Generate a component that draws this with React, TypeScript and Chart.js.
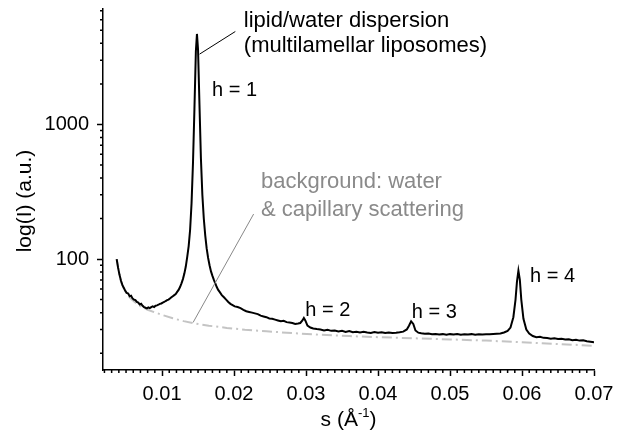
import React, { useEffect, useRef } from "react";
import { Chart, registerables } from "chart.js";

Chart.register(...registerables);

// ---- data ----
const S_MAIN = [
  0.0037, 0.0039, 0.0041, 0.0043, 0.0045, 0.0047, 0.0049, 0.0051, 0.0053, 0.0055,
  0.0057, 0.0059, 0.0061, 0.0063, 0.0065, 0.0067, 0.0069, 0.0071, 0.0073, 0.0075,
  0.0077, 0.0079, 0.0081, 0.0083, 0.0085, 0.0087, 0.0089, 0.0091, 0.0093, 0.0095,
  0.0097, 0.0099, 0.0101, 0.0103, 0.0105, 0.0107, 0.0109, 0.0111, 0.0113, 0.0115,
  0.0117, 0.0119, 0.0121, 0.0123, 0.0125, 0.0127, 0.0129, 0.0131, 0.0133, 0.0135,
  0.0137, 0.0139, 0.0141, 0.0143, 0.0145, 0.0147, 0.01485, 0.015, 0.0152, 0.0154,
  0.0156, 0.0158, 0.016, 0.0162, 0.0164, 0.0166, 0.0168, 0.017, 0.0172, 0.0174,
  0.0176, 0.0178, 0.018, 0.0183, 0.0186, 0.0189, 0.0192, 0.0195, 0.0198, 0.0201,
  0.0205, 0.0209, 0.0213, 0.0217, 0.0221, 0.0225, 0.0229, 0.0233, 0.0237, 0.0241,
  0.0245, 0.0249, 0.0253, 0.0257, 0.0261, 0.0265, 0.0269, 0.0273, 0.0277, 0.0281,
  0.0285, 0.0289, 0.0292, 0.0295, 0.0297, 0.0299, 0.0302, 0.0306, 0.031, 0.0315,
  0.032, 0.0325, 0.033, 0.0335, 0.034, 0.0345, 0.035, 0.0355, 0.036, 0.0365,
  0.037, 0.0375, 0.038, 0.0385, 0.039, 0.0395, 0.04, 0.0405, 0.041, 0.0415,
  0.042, 0.0425, 0.043, 0.0435, 0.044, 0.0443, 0.0446, 0.0449, 0.0452, 0.0456,
  0.046, 0.0465, 0.047, 0.0475, 0.048, 0.0485, 0.049, 0.0495, 0.05, 0.0505,
  0.051, 0.0515, 0.052, 0.0525, 0.053, 0.0535, 0.054, 0.0545, 0.055, 0.0555,
  0.056, 0.0565, 0.057, 0.0575, 0.058, 0.0584, 0.0588, 0.0591, 0.0593, 0.0595,
  0.0597, 0.0599, 0.0602, 0.0606, 0.061, 0.0615, 0.062, 0.0625, 0.063, 0.0635,
  0.064, 0.0645, 0.065, 0.0655, 0.066, 0.0665, 0.067, 0.0675, 0.068, 0.0685,
  0.069, 0.0695, 0.07,
];
const I_MAIN = [
  100, 86, 76, 69, 64, 61, 58, 56, 55.5, 53,
  53.5, 51, 50, 49.5, 48, 47.5, 46, 46.5, 45, 44,
  43.5, 43, 43.8, 43.2, 44, 44.5, 44, 45, 45.3, 45.8,
  46.5, 46.8, 47.5, 48, 48.8, 49.5, 50, 51, 52, 53,
  54, 55, 57, 59, 62, 66, 71, 78, 88, 104,
  125, 165, 260, 520, 1300, 3500, 4700, 3600, 1400, 560,
  300, 200, 150, 120, 102, 90, 81, 75, 70, 66,
  62, 59, 57, 54, 52, 50, 48, 46.5, 45.5, 44.5,
  44, 43.2, 42, 41, 40.5, 40, 39.5, 39, 38, 37.5,
  37, 36.2, 36, 35.5, 35, 34.5, 34.8, 34, 33.8, 33.5,
  33, 33.2, 33.5, 35, 36.5, 35, 32, 31, 30.5, 30.2,
  30, 29.5, 29.8, 29.3, 29.5, 29, 29.3, 28.8, 29.2, 28.6,
  28.9, 28.5, 28.8, 28.5, 28.3, 28.7, 28.4, 28.6, 28.2, 28.5,
  28.3, 28.4, 28.6, 28.9, 30, 32, 34.5, 33, 29.5, 28.4,
  28.1, 27.9, 28, 27.6, 27.8, 27.5, 27.7, 27.4, 27.7, 27.5,
  27.8, 27.4, 27.6, 27.5, 27.7, 27.4, 27.6, 27.5, 27.7, 27.6,
  27.8, 27.9, 28, 28.5, 29.3, 31, 37, 50, 68, 82,
  70, 50, 36, 30, 28, 26.8, 26.3, 26.5, 26, 25.9,
  25.6, 25.8, 25.5, 25.6, 25.3, 25.4, 25, 25.2, 24.8, 24.9,
  24.5, 24.3, 24.1,
];

const S_BG = [
  0.0037, 0.004, 0.0043, 0.0047, 0.0052, 0.0058, 0.0065, 0.0072, 0.008, 0.009,
  0.01, 0.0115, 0.013, 0.0145, 0.0165, 0.019, 0.0215, 0.0245, 0.028, 0.032,
  0.036, 0.04, 0.045, 0.05, 0.055, 0.06, 0.065, 0.07,
];
const I_BG = [
  100, 80, 68, 60, 54, 50, 46.5, 44, 42, 40.2,
  38.5, 36.3, 34.6, 33.3, 32, 30.8, 29.9, 29.1, 28.2, 27.4,
  26.8, 26.3, 25.8, 25.3, 24.8, 24.1, 23.4, 22.7,
];

const X_TICKS = [0.01, 0.02, 0.03, 0.04, 0.05, 0.06, 0.07];
const X_TICK_LABELS = ["0.01", "0.02", "0.03", "0.04", "0.05", "0.06", "0.07"];
const Y_TICKS = [100, 1000];
const Y_TICK_LABELS = ["100", "1000"];
const Y_MINOR = [20, 30, 40, 50, 60, 70, 80, 90, 200, 300, 400, 500, 600, 700, 800, 900, 2000, 3000, 4000, 5000, 6000, 7000];

const X_MIN = 0.0018;
const X_MAX = 0.07;
const Y_MIN = 15;
const Y_MAX = 7200;

// annotation texts (anchored in data coordinates)
const NOTE_MAIN = ["lipid/water dispersion", "(multilamellar liposomes)"];
const NOTE_MAIN_POS = { s: 0.02136, i: 5260 };
const NOTE_MAIN_LEADER = [{ s: 0.02018, i: 4900 }, { s: 0.01522, i: 3330 }];
const NOTE_BG = ["background: water", "& capillary scattering"];
const NOTE_BG_POS = { s: 0.02374, i: 337 };
const NOTE_BG_LEADER = [{ s: 0.02272, i: 216 }, { s: 0.01431, i: 33.8 }];
const ORDER_LABELS = ["h = 1", "h = 2", "h = 3", "h = 4"];
const ORDER_POS = [
  { s: 0.01694, i: 1620 },
  { s: 0.02989, i: 37.5 },
  { s: 0.04470, i: 36.3 },
  { s: 0.06112, i: 68 },
];

const FONT = "'Liberation Sans', Arial, sans-serif";

export default function App() {
  const ref = useRef<HTMLCanvasElement>(null);

  useEffect(() => {
    if (!ref.current) return;
    const mainData = S_MAIN.map((s, k) => ({ x: s, y: I_MAIN[k] }));
    const bgData = S_BG.map((s, k) => ({ x: s, y: I_BG[k] }));

    const overlay = {
      id: "overlay",
      afterDraw(chart: any) {
        const ctx = chart.ctx as CanvasRenderingContext2D;
        const xs = chart.scales.x;
        const ys = chart.scales.y;
        const area = chart.chartArea;
        const px = (s: number) => xs.getPixelForValue(s);
        const py = (v: number) => ys.getPixelForValue(v);
        ctx.save();
        // minor ticks
        ctx.strokeStyle = "#000";
        ctx.lineWidth = 1.5;
        ctx.beginPath();
        for (const v of Y_MINOR) {
          const y = py(v);
          if (y < area.top || y > area.bottom) continue;
          ctx.moveTo(area.left, y);
          ctx.lineTo(area.left - 3, y);
        }
        for (let k = 2; k <= 70; k++) {
          if (k % 10 === 0) continue;
          const x = px(k / 1000);
          ctx.moveTo(x, area.bottom);
          ctx.lineTo(x, area.bottom + 3);
        }
        ctx.stroke();

        // leaders
        ctx.lineWidth = 1;
        ctx.strokeStyle = "#000";
        ctx.beginPath();
        ctx.moveTo(px(NOTE_MAIN_LEADER[0].s), py(NOTE_MAIN_LEADER[0].i));
        ctx.lineTo(px(NOTE_MAIN_LEADER[1].s), py(NOTE_MAIN_LEADER[1].i));
        ctx.stroke();
        ctx.strokeStyle = "#888";
        ctx.beginPath();
        ctx.moveTo(px(NOTE_BG_LEADER[0].s), py(NOTE_BG_LEADER[0].i));
        ctx.lineTo(px(NOTE_BG_LEADER[1].s), py(NOTE_BG_LEADER[1].i));
        ctx.stroke();

        // annotation texts
        ctx.textAlign = "left";
        ctx.textBaseline = "alphabetic";
        ctx.font = `22px ${FONT}`;
        ctx.fillStyle = "#000";
        let x0 = px(NOTE_MAIN_POS.s);
        let y0 = py(NOTE_MAIN_POS.i);
        NOTE_MAIN.forEach((t, k) => ctx.fillText(t, x0, y0 + k * 25));
        ctx.fillStyle = "#8a8a8a";
        x0 = px(NOTE_BG_POS.s);
        y0 = py(NOTE_BG_POS.i);
        NOTE_BG.forEach((t, k) => ctx.fillText(t, x0, y0 + k * 27.7));
        ctx.fillStyle = "#000";
        ctx.font = `20px ${FONT}`;
        ORDER_LABELS.forEach((t, k) => ctx.fillText(t, px(ORDER_POS[k].s), py(ORDER_POS[k].i)));

        // axis titles
        ctx.font = `21px ${FONT}`;
        ctx.save();
        ctx.translate(31, 201);
        ctx.rotate(-Math.PI / 2);
        ctx.textAlign = "center";
        ctx.fillText("log(I) (a.u.)", 0, 0);
        ctx.restore();

        const cx = (area.left + area.right) / 2;
        const base = 426;
        const p1 = "s (Å";
        const p2 = "-1";
        const p3 = ")";
        ctx.font = `21px ${FONT}`;
        const w1 = ctx.measureText(p1).width;
        const w3 = ctx.measureText(p3).width;
        ctx.font = `13px ${FONT}`;
        const w2 = ctx.measureText(p2).width;
        const start = cx - (w1 + w2 + w3) / 2;
        ctx.font = `21px ${FONT}`;
        ctx.fillText(p1, start, base);
        ctx.font = `13px ${FONT}`;
        ctx.fillText(p2, start + w1, base - 9);
        ctx.font = `21px ${FONT}`;
        ctx.fillText(p3, start + w1 + w2, base);
        ctx.restore();
      },
    };

    const zeroPad = (s: any) => {
      s.paddingTop = 0;
      s.paddingBottom = 0;
      s.paddingLeft = 0;
      s.paddingRight = 0;
    };

    const chart = new Chart(ref.current, {
      type: "line",
      data: {
        datasets: [
          {
            label: "lipid/water dispersion",
            data: mainData,
            borderColor: "#000",
            borderWidth: 2,
            pointRadius: 0,
            tension: 0,
            fill: false,
          },
          {
            label: "background",
            data: bgData,
            borderColor: "#c4c4c4",
            borderWidth: 2,
            borderDash: [10, 4, 2, 4],
            pointRadius: 0,
            tension: 0,
            fill: false,
          },
        ],
      },
      options: {
        responsive: false,
        animation: false,
        events: [],
        layout: { padding: { top: 9, right: 23, left: 0, bottom: 0 } },
        plugins: {
          legend: { display: false },
          tooltip: { enabled: false },
        },
        scales: {
          x: {
            type: "linear",
            min: X_MIN,
            max: X_MAX,
            afterBuildTicks: (s: any) => {
              s.ticks = X_TICKS.map((v) => ({ value: v }));
            },
            afterFit: (s: any) => {
              s.height = 77;
              zeroPad(s);
            },
            ticks: {
              autoSkip: false,
              maxRotation: 0,
              padding: 6,
              color: "#000",
              font: { family: FONT, size: 20 },
              callback: (v: any) => {
                const k = X_TICKS.findIndex((t) => Math.abs(t - v) < 1e-9);
                return k >= 0 ? X_TICK_LABELS[k] : "";
              },
            },
            grid: {
              drawOnChartArea: false,
              drawTicks: true,
              tickLength: 6,
              tickColor: "#000",
              tickWidth: 1.5,
            },
            border: { display: true, color: "#000", width: 1.5 },
          },
          y: {
            type: "logarithmic",
            min: Y_MIN,
            max: Y_MAX,
            afterBuildTicks: (s: any) => {
              s.ticks = Y_TICKS.map((v) => ({ value: v }));
            },
            afterFit: (s: any) => {
              s.width = 103;
              zeroPad(s);
            },
            ticks: {
              autoSkip: false,
              padding: 8,
              color: "#000",
              font: { family: FONT, size: 20 },
              callback: (v: any) => {
                const k = Y_TICKS.indexOf(v);
                return k >= 0 ? Y_TICK_LABELS[k] : "";
              },
            },
            grid: {
              drawOnChartArea: false,
              drawTicks: true,
              tickLength: 6,
              tickColor: "#000",
              tickWidth: 1.5,
            },
            border: { display: true, color: "#000", width: 1.5 },
          },
        },
      },
      plugins: [overlay],
    });
    return () => chart.destroy();
  }, []);

  return (
    <div style={{ position: "fixed", left: 0, top: 0, width: 617, height: 447, background: "#fff" }}>
      <canvas ref={ref} width={617} height={447} />
    </div>
  );
}
